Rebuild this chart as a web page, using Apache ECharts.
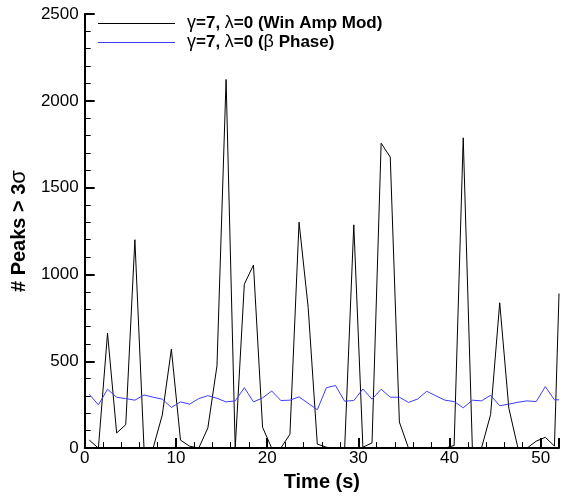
<!DOCTYPE html>
<html>
<head>
<meta charset="utf-8">
<script src="https://cdn.jsdelivr.net/npm/echarts@6/dist/echarts.min.js"></script>
<style>
  html, body { margin: 0; padding: 0; background: #fff; }
  #chart { width: 561px; height: 497px; }
</style>
</head>
<body>
<div id="chart"></div>
<script>
// time stamps (s)
const times = [
  0.5, 1.5, 2.5, 3.5, 4.5, 5.5, 6.5, 7.5, 8.5, 9.5,
  10.5, 11.5, 12.5, 13.5, 14.5, 15.5, 16.5, 17.5, 18.5, 19.5,
  20.5, 21.5, 22.5, 23.5, 24.5, 25.5, 26.5, 27.5, 28.5, 29.5,
  30.5, 31.5, 32.5, 33.5, 34.5, 35.5, 36.5, 37.5, 38.5, 39.5,
  40.5, 41.5, 42.5, 43.5, 44.5, 45.5, 46.5, 47.5, 48.5, 49.5,
  50.5, 51.5, 52
];
// γ=7, λ=0 (Win Amp Mod)
const winAmpMod = [
  46, 0, 662, 87, 135, 1200, 0, 0, 190, 570,
  46, 11, 0, 116, 474, 2123, 0, 944, 1054, 120,
  0, 0, 80, 1301, 810, 23, 5, 0, 0, 1286,
  5, 30, 1756, 1676, 150, 0, 0, 0, 0, 0,
  15, 1787, 0, 0, 193, 837, 230, 0, 0, 40,
  62, 12, 890
];
// γ=7, λ=0 (β Phase)
const betaPhase = [
  310, 249, 339, 293, 285, 276, 306, 293, 282, 234,
  266, 253, 285, 302, 287, 266, 272, 348, 266, 289,
  329, 274, 276, 295, 258, 221, 348, 360, 270, 274,
  340, 282, 339, 293, 293, 263, 283, 327, 301, 276,
  268, 232, 276, 272, 304, 244, 253, 264, 272, 268,
  354, 278, 278
];
const xTicks = { min: 0, max: 52, interval: 10 };
const yTicks = { min: 0, max: 2500, interval: 500 };

const font = "'Liberation Sans', Arial, sans-serif";
const blue = "#3c3cff";

const toPairs = (vals) => times.map((t, i) => [t, vals[i]]);

const chart = echarts.init(document.getElementById("chart"));

const axisCommon = {
  type: "value",
  axisLine: { show: true, lineStyle: { color: "#000", width: 2 } },
  axisTick: { show: true, inside: true, length: 10, lineStyle: { color: "#000", width: 2 } },
  minorTick: { show: true, splitNumber: 5, length: 6, lineStyle: { color: "#000", width: 1 } },
  splitLine: { show: false },
  axisLabel: {
    color: "#000", fontSize: 17, fontFamily: font,
    formatter: (v) => String(v), // no thousands separator
  },
  nameLocation: "middle",
};

chart.setOption({
  animation: false,
  grid: { left: 79, right: 2, top: 14, bottom: 45 },
  legend: {
    orient: "vertical",
    left: 93,
    top: 9,
    icon: "rect",
    itemWidth: 77,
    itemHeight: 1,
    itemGap: 0,
    formatter: (name) => name.replace(/([γλβ])/g, "{g|$1}"),
    textStyle: {
      color: "#000",
      fontSize: 17,
      fontWeight: "bold",
      fontFamily: font,
      lineHeight: 19,
      padding: [0, 0, 0, 7],
      rich: { g: { fontSize: 18, fontWeight: "normal", fontFamily: font, lineHeight: 19 } },
    },
  },
  xAxis: {
    ...axisCommon,
    min: xTicks.min,
    max: xTicks.max,
    interval: xTicks.interval,
    axisLabel: { ...axisCommon.axisLabel, margin: 2, showMaxLabel: false },
    name: "Time (s)",
    nameGap: 21,
    nameTextStyle: { color: "#000", fontSize: 20, fontWeight: "bold", fontFamily: font },
  },
  yAxis: {
    ...axisCommon,
    min: yTicks.min,
    max: yTicks.max,
    interval: yTicks.interval,
    axisLabel: { ...axisCommon.axisLabel, margin: 6 },
    name: "# Peaks > 3{g|σ}",
    nameGap: 48,
    nameTextStyle: {
      color: "#000", fontSize: 20, fontWeight: "bold", fontFamily: font,
      rich: { g: { fontSize: 22, fontWeight: "normal", fontFamily: font } },
    },
  },
  series: [
    {
      name: "γ=7, λ=0 (Win Amp Mod)",
      type: "line",
      data: toPairs(winAmpMod),
      showSymbol: false,
      clip: true,
      lineStyle: { color: "#000", width: 1 },
      itemStyle: { color: "#000" },
    },
    {
      name: "γ=7, λ=0 (β Phase)",
      type: "line",
      data: toPairs(betaPhase),
      showSymbol: false,
      clip: true,
      lineStyle: { color: blue, width: 1 },
      itemStyle: { color: blue },
    },
  ],
});
</script>
</body>
</html>
